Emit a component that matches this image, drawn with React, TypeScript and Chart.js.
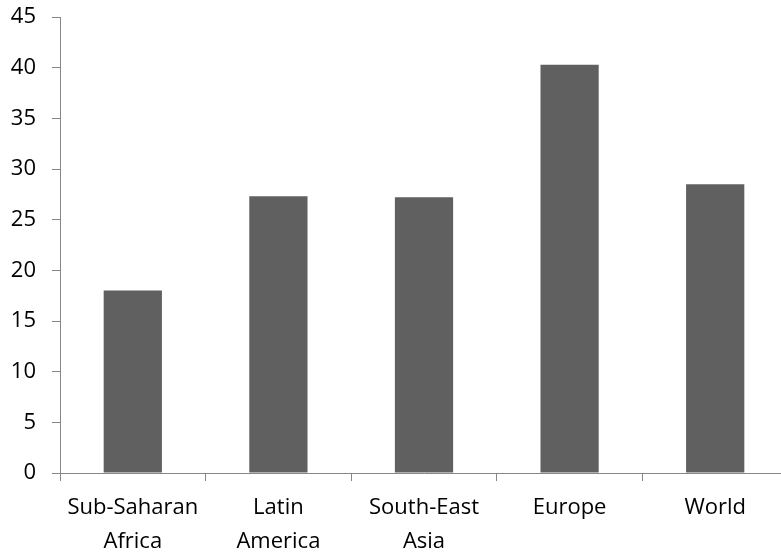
import React, { useEffect, useRef } from "react";
import { Chart, registerables } from "chart.js";

Chart.register(...registerables);

const categories: (string | string[])[] = [
  ["Sub-Saharan", "Africa"],
  ["Latin", "America"],
  ["South-East", "Asia"],
  "Europe",
  "World",
];
const values: number[] = [18.0, 27.3, 27.2, 40.3, 28.5];
const yMin = 0;
const yMax = 45;
const yStep = 5;

const AXIS = "#878787";
const BAR = "#606060";
const FONT = "'Open Sans', 'DejaVu Sans', sans-serif";

export default function App() {
  const ref = useRef<HTMLCanvasElement | null>(null);

  useEffect(() => {
    if (!ref.current) return;
    const chart = new Chart(ref.current, {
      type: "bar",
      data: {
        labels: categories,
        datasets: [
          {
            data: values,
            backgroundColor: BAR,
            borderWidth: 0,
            categoryPercentage: 1,
            barPercentage: 0.4,
          },
        ],
      },
      options: {
        animation: false,
        responsive: true,
        maintainAspectRatio: false,
        devicePixelRatio: 1,
        layout: { padding: { top: 17, left: 0, right: 0, bottom: 0 } },
        plugins: {
          legend: { display: false },
          tooltip: { enabled: false },
        },
        scales: {
          x: {
            offset: true,
            grid: {
              offset: true,
              display: true,
              drawOnChartArea: false,
              drawTicks: true,
              tickLength: 8,
              color: AXIS,
              lineWidth: 1,
            },
            border: { color: AXIS, width: 1 },
            ticks: {
              color: "#000",
              padding: 10,
              maxRotation: 0,
              autoSkip: false,
              font: { family: FONT, size: 22, lineHeight: 1.55 },
            },
            afterFit: (scale: any) => {
              scale.height = 81;
              scale.paddingLeft = 0;
              scale.paddingRight = 0;
            },
          },
          y: {
            min: yMin,
            max: yMax,
            grid: {
              display: true,
              drawOnChartArea: false,
              drawTicks: true,
              tickLength: 8,
              color: AXIS,
              lineWidth: 1,
            },
            border: { color: AXIS, width: 1 },
            ticks: {
              stepSize: yStep,
              color: "#000",
              padding: 16,
              font: { family: FONT, size: 22 },
            },
            afterFit: (scale: any) => {
              scale.width = 60;
              scale.paddingTop = 0;
              scale.paddingBottom = 0;
            },
          },
        },
      },
    });
    return () => chart.destroy();
  }, []);

  return (
    <div
      style={{
        position: "fixed",
        left: 0,
        top: 0,
        width: 781,
        height: 554,
        overflow: "hidden",
        background: "#fff",
      }}
    >
      <div style={{ position: "relative", width: 788, height: 554 }}>
        <canvas ref={ref} />
      </div>
    </div>
  );
}
